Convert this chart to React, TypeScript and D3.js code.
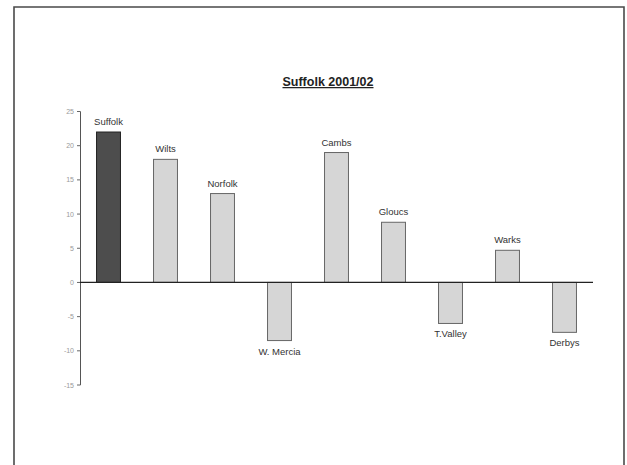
import React from "react";
import * as d3 from "d3";

const categories = ["Suffolk", "Wilts", "Norfolk", "W. Mercia", "Cambs", "Gloucs", "T.Valley", "Warks", "Derbys"];
const values = [22, 18, 13, -8.5, 19, 8.8, -6, 4.7, -7.3];
const yTicks = [25, 20, 15, 10, 5, 0, -5, -10, -15];
const title = "Suffolk 2001/02";
const highlight = "Suffolk";

export default function App() {
  const W = 627, H = 465;
  const x = d3.scaleBand<string>().domain(categories).range([80, 593]).paddingInner(0.58).paddingOuter(0.29);
  const y = d3.scaleLinear().domain([-15, 25]).range([385, 111.5]);
  const font = "Arial, 'Liberation Sans', sans-serif";
  return (
    <svg width={W} height={H} style={{ position: "absolute", left: 0, top: 0, background: "#fff" }}>
      <path d={`M14,${H + 2} V7 H624 V${H + 2}`} fill="none" stroke="#4a4a4a" strokeWidth={1.6} />
      <text x={328} y={86} textAnchor="middle" fontFamily={font} fontSize={12.5} fontWeight="bold" fill="#222" textDecoration="underline">{title}</text>
      {/* y axis */}
      <line x1={80.5} x2={80.5} y1={y(25)} y2={y(-15)} stroke="#555" strokeWidth={1} />
      {yTicks.map((t) => (
        <g key={t}>
          <line x1={77} x2={80.5} y1={y(t)} y2={y(t)} stroke="#666" strokeWidth={1} />
          <text x={74} y={y(t) + 2.5} textAnchor="end" fontFamily={font} fontSize={7} fill="#999">{t}</text>
        </g>
      ))}
      {/* bars */}
      {categories.map((c, i) => {
        const v = values[i];
        const bx = x(c)!;
        const bw = x.bandwidth();
        const top = v >= 0 ? y(v) : y(0);
        const h = Math.abs(y(v) - y(0));
        const isHi = c === highlight;
        return (
          <g key={c}>
            <rect x={bx} y={top} width={bw} height={h} fill={isHi ? "#4d4d4d" : "#d6d6d6"} stroke={isHi ? "#222" : "#666"} strokeWidth={1} />
            <text x={bx + bw / 2} y={v >= 0 ? y(v) - 7 : y(v) + 14} textAnchor="middle" fontFamily={font} fontSize={9.5} fill="#333">{c}</text>
          </g>
        );
      })}
      {/* zero line */}
      <line x1={80} x2={593} y1={y(0)} y2={y(0)} stroke="#222" strokeWidth={1.2} />
    </svg>
  );
}
